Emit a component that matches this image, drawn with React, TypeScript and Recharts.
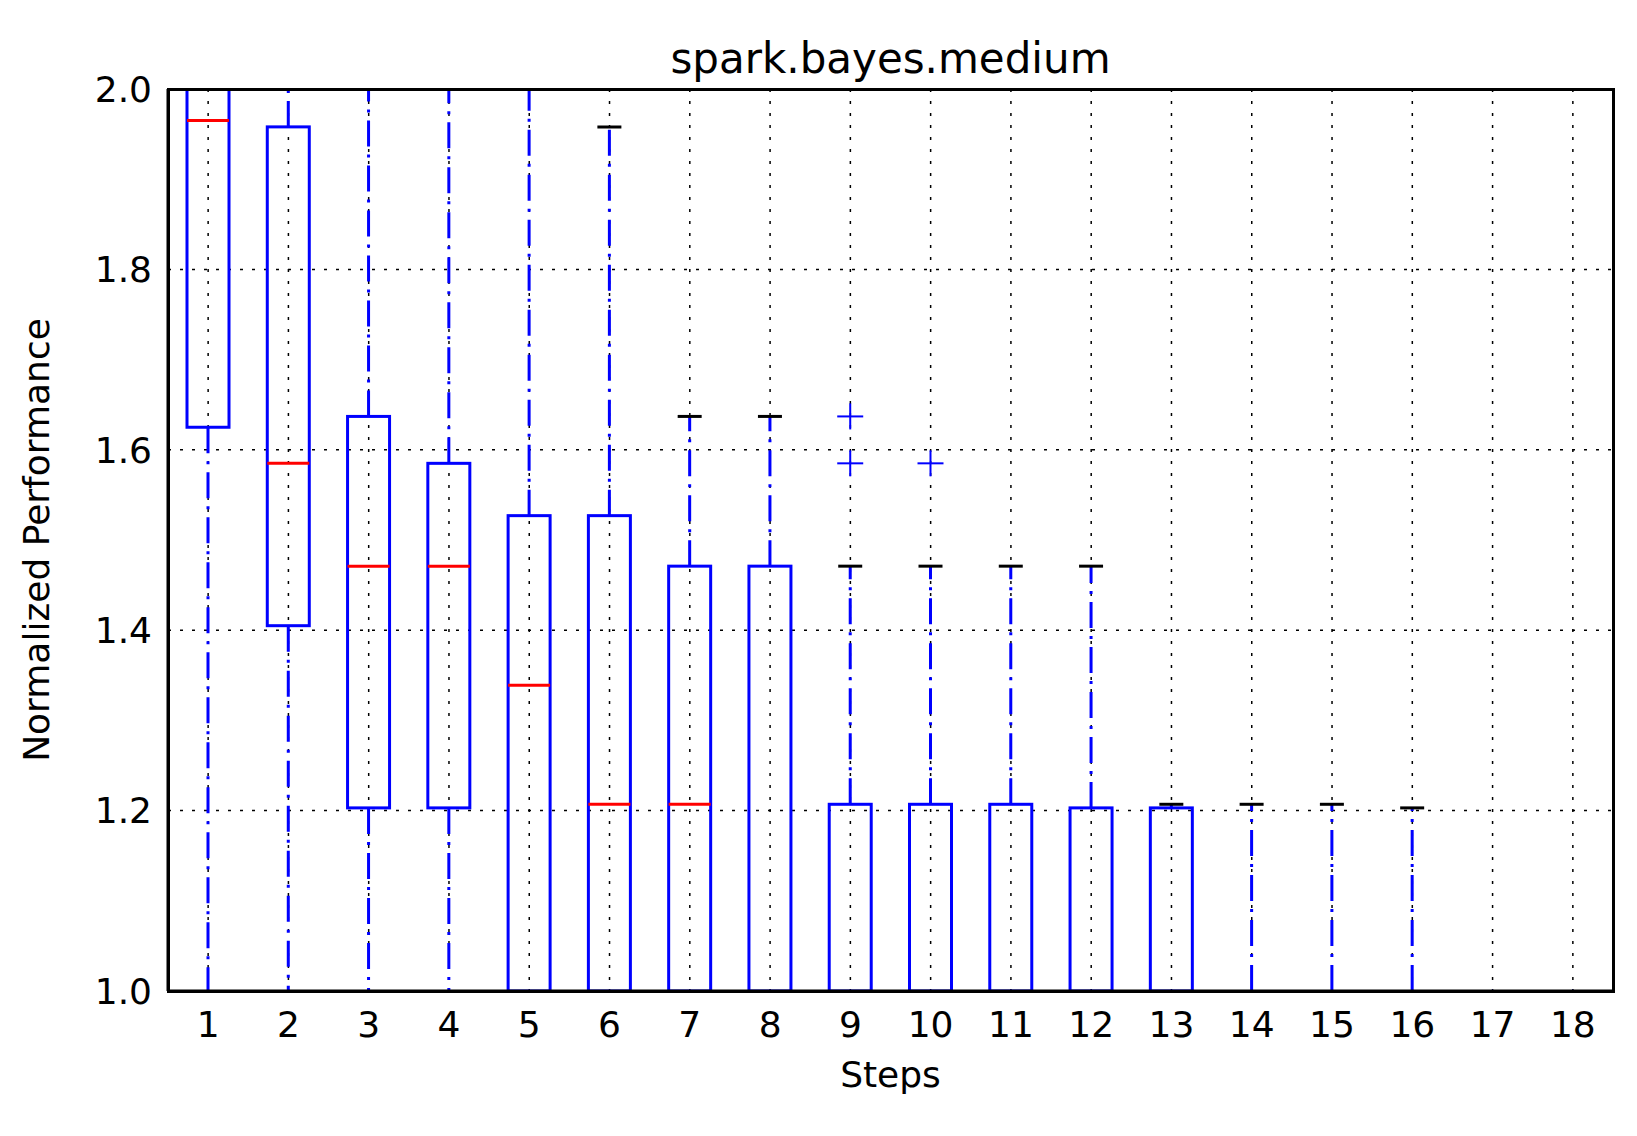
import React from 'react';
import { ComposedChart, Bar, XAxis, YAxis, CartesianGrid } from 'recharts';

const steps = ['1','2','3','4','5','6','7','8','9','10','11','12','13','14','15','16','17','18'];
const q1 = [1.625,1.405,1.203,1.203,1.0,1.0,1.0,1.0,1.0,1.0,1.0,1.0,1.0,1.0,1.0,1.0,1.0,1.0];
const med = [1.965,1.585,1.471,1.471,1.339,1.207,1.207,1.0,1.0,1.0,1.0,1.0,1.0,1.0,1.0,1.0,1.0,1.0];
const q3 = [2.1,1.958,1.637,1.585,1.527,1.527,1.471,1.471,1.207,1.207,1.207,1.203,1.203,1.0,1.0,1.0,1.0,1.0];
const lo = [1.0,1.0,1.0,1.0,1.0,1.0,1.0,1.0,1.0,1.0,1.0,1.0,1.0,1.0,1.0,1.0,1.0,1.0];
const hi = [2.5,2.5,2.5,2.5,2.5,1.958,1.637,1.637,1.471,1.471,1.471,1.471,1.207,1.207,1.207,1.203,1.0,1.0];
const outliers: number[][] = [[],[],[],[],[],[],[],[],[1.585,1.637],[1.585],[],[],[],[],[],[],[],[]];
const yTicks = [1.0,1.2,1.4,1.6,1.8,2.0];

const data = steps.map((s, i) => ({ step: s, ref: [1, 2], q1: q1[i], med: med[i], q3: q3[i], lo: lo[i], hi: hi[i], out: outliers[i] }));

const BoxShape = (props: any) => {
  const { x, y, width, height, payload } = props;
  const py = (v: number) => y + height * (2 - Math.min(Math.max(v, 1), 2));
  const cx = x + width / 2;
  const top = py(payload.q3), bot = py(payload.q1);
  const dash = '26 8 3 8';
  return (
    <g>
      <line x1={cx} x2={cx} y1={bot} y2={py(payload.lo)} stroke="#0000ff" strokeWidth={3} strokeDasharray={dash} />
      <line x1={cx} x2={cx} y1={top} y2={py(payload.hi)} stroke="#0000ff" strokeWidth={3} strokeDasharray={dash} />
      {payload.hi <= 2 && payload.hi > 1 && (
        <line x1={cx - 12} x2={cx + 12} y1={py(payload.hi)} y2={py(payload.hi)} stroke="#000" strokeWidth={3} />
      )}
      <rect x={x} y={top} width={width} height={Math.max(bot - top, 0)} fill="none" stroke="#0000ff" strokeWidth={3} />
      {payload.med > 1 && (
        <line x1={x} x2={x + width} y1={py(payload.med)} y2={py(payload.med)} stroke="#ff0000" strokeWidth={3} />
      )}
      {payload.out.map((o: number, k: number) => (
        <g key={k} stroke="#0000ff" strokeWidth={2}>
          <line x1={cx - 13} x2={cx + 13} y1={py(o)} y2={py(o)} />
          <line x1={cx} x2={cx} y1={py(o) - 13} y2={py(o) + 13} />
        </g>
      ))}
    </g>
  );
};

export default function App() {
  const font = { fontFamily: 'DejaVu Sans', fontSize: 36, fill: '#000' };
  return (
    <div style={{ position: 'relative', width: 1621, height: 1120, fontFamily: 'DejaVu Sans' }}>
      <div style={{ position: 'absolute', left: 160, width: 1445, top: 26, textAlign: 'center', fontSize: 42 }}>spark.bayes.medium</div>
      <ComposedChart width={1621} height={1120} data={data} margin={{ top: 81, right: 16, bottom: 77, left: 80 }}>
        <CartesianGrid stroke="#000" strokeDasharray="3 9" strokeWidth={1.5} />
        <XAxis dataKey="step" tick={font} tickLine={false} axisLine={{ stroke: '#000', strokeWidth: 3 }} height={60} tickMargin={14}
          label={{ value: 'Steps', position: 'insideBottom', offset: -36, style: font }} />
        <YAxis type="number" domain={[1, 2]} ticks={yTicks} allowDataOverflow tick={font} tickLine={false}
          tickFormatter={(v: number) => v.toFixed(1)} axisLine={{ stroke: '#000', strokeWidth: 3 }} width={80} tickMargin={10}
          label={{ value: 'Normalized Performance', angle: -90, position: 'insideLeft', offset: -52, style: { ...font, textAnchor: 'middle' } }} />
        <Bar dataKey="ref" barSize={42} shape={BoxShape} isAnimationActive={false} />
      </ComposedChart>
      <div style={{ position: 'absolute', left: 158.5, top: 79.5, width: 1448, height: 905, border: '3px solid #000', boxSizing: 'border-box', pointerEvents: 'none' }} />
    </div>
  );
}
